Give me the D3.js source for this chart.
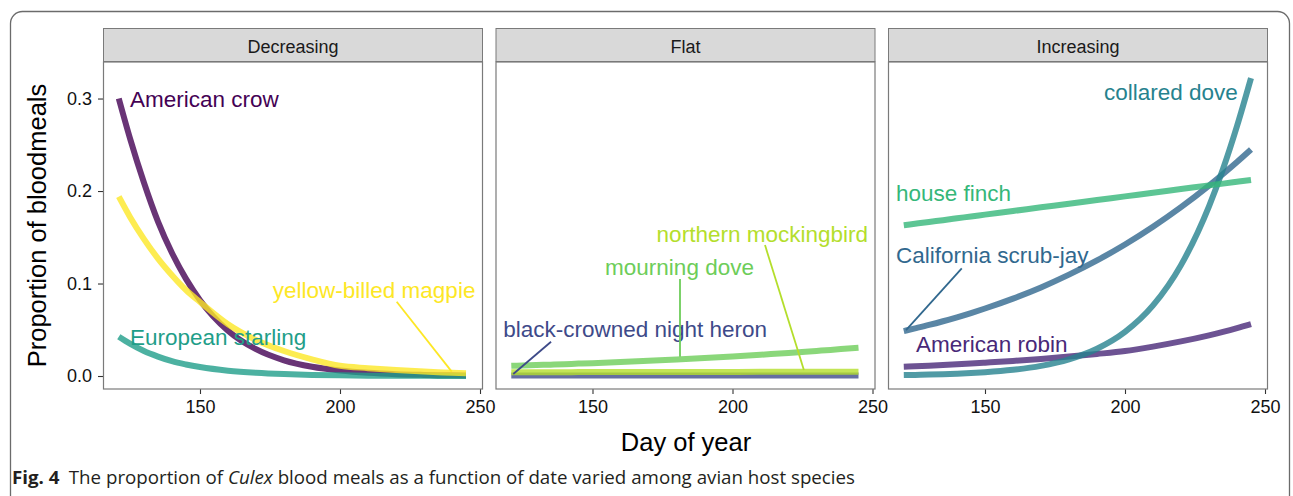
<!DOCTYPE html>
<html>
<head>
<meta charset="utf-8">
<script src="https://cdn.jsdelivr.net/npm/d3@7"></script>
<style>
  body { margin: 0; background: #ffffff; }
  svg { display: block; }
</style>
</head>
<body>
<svg id="chart" width="1293" height="496"></svg>
<script>
// ---------------- DATA ----------------
const panelNames = ["Decreasing", "Flat", "Increasing"];
const species = ["American crow", "American robin", "black-crowned night heron", "California scrub-jay",
  "collared dove", "European starling", "house finch", "mourning dove", "northern mockingbird", "yellow-billed magpie"];
const speciesPanel = ["Decreasing", "Increasing", "Flat", "Increasing",
  "Increasing", "Decreasing", "Increasing", "Flat", "Flat", "Decreasing"];
const speciesColors = ["#440154", "#482878", "#3E4A89", "#31688E", "#26828E",
  "#1F9E89", "#35B779", "#6DCD59", "#B4DE2C", "#FDE725"];

const days = [121, 125, 130, 135, 140, 145, 150, 160, 170, 180, 190, 200, 210, 220, 230, 235, 240, 245];
const americanCrow       = [0.300, 0.257, 0.209, 0.167, 0.133, 0.105, 0.082, 0.049, 0.029, 0.017, 0.010, 0.006, 0.0035, 0.0020, 0.0012, 0.0009, 0.0007, 0.0005];
const americanRobin      = [0.0100, 0.0105, 0.0112, 0.0119, 0.0127, 0.0135, 0.0144, 0.0163, 0.0185, 0.0210, 0.0238, 0.0270, 0.0318, 0.0374, 0.0440, 0.0477, 0.0517, 0.0560];
const nightHeron         = [0.0006, 0.0006, 0.0006, 0.0006, 0.0006, 0.0006, 0.0006, 0.0006, 0.0006, 0.0006, 0.0006, 0.0006, 0.0006, 0.0006, 0.0006, 0.0006, 0.0006, 0.0006];
const scrubJay           = [0.0486, 0.0515, 0.0552, 0.0592, 0.0635, 0.0681, 0.0730, 0.0837, 0.0958, 0.1096, 0.1250, 0.1422, 0.1614, 0.1826, 0.2059, 0.2184, 0.2314, 0.2449];
const collaredDove       = [0.0010, 0.0012, 0.0015, 0.0019, 0.0025, 0.0032, 0.0041, 0.0067, 0.0110, 0.0181, 0.0295, 0.0477, 0.0763, 0.1199, 0.1834, 0.2237, 0.2701, 0.3220];
const europeanStarling   = [0.0425, 0.0350, 0.0270, 0.0210, 0.0160, 0.0125, 0.0097, 0.0058, 0.0035, 0.0021, 0.0012, 0.0007, 0.0004, 0.0003, 0.0002, 0.0001, 0.0001, 0.0001];
const houseFinch         = [0.1630, 0.1646, 0.1666, 0.1685, 0.1705, 0.1725, 0.1745, 0.1784, 0.1824, 0.1863, 0.1903, 0.1942, 0.1982, 0.2021, 0.2061, 0.2080, 0.2100, 0.2120];
const mourningDove       = [0.0110, 0.0114, 0.0119, 0.0123, 0.0128, 0.0134, 0.0139, 0.0151, 0.0165, 0.0179, 0.0194, 0.0211, 0.0230, 0.0249, 0.0271, 0.0282, 0.0294, 0.0306];
const mockingbird        = [0.0040, 0.0040, 0.0041, 0.0041, 0.0041, 0.0042, 0.0042, 0.0042, 0.0043, 0.0043, 0.0044, 0.0044, 0.0045, 0.0045, 0.0046, 0.0046, 0.0046, 0.0047];
const yellowBilledMagpie = [0.194, 0.172, 0.148, 0.127, 0.109, 0.093, 0.080, 0.056, 0.039, 0.027, 0.018, 0.011, 0.0085, 0.0065, 0.0048, 0.0041, 0.0035, 0.0030];
const seriesValues = [americanCrow, americanRobin, nightHeron, scrubJay, collaredDove,
  europeanStarling, houseFinch, mourningDove, mockingbird, yellowBilledMagpie];

const xTicks = [150, 200, 250];
const xTickLabels = ["150", "200", "250"];
const yTicks = [0, 0.1, 0.2, 0.3];
const yTickLabels = ["0.0", "0.1", "0.2", "0.3"];

// label anchors (data units: day, proportion) and leader segments
const labelDay   = [125.0, 125.4, 118.1, 118.2, 192.5, 125.0, 118.2, 154.5, 172.9, 176.0];
const labelValue = [0.291, 0.0263, 0.0425, 0.1218, 0.2984, 0.0335, 0.1892, 0.1092, 0.1452, 0.0840];
const segFromDay   = [null, null, 135.2, 141.7, null, null, null, 181.25, 211.6, 220.25];
const segFromValue = [null, null, 0.0371, 0.1164, null, null, null, 0.1049, 0.1416, 0.0803];
const segToDay     = [null, null, 121.7, 121.8, null, null, null, 181.25, 225.5, 239.9];
const segToValue   = [null, null, 0.0022, 0.0497, null, null, null, 0.0209, 0.0065, 0.0047];

// ---------------- LAYOUT ----------------
const svg = d3.select("#chart");
const font = "'Liberation Sans', Arial, Helvetica, sans-serif";
const panelLefts = [103, 495.5, 888];
const panelW = 380;
const panelTop = 62, panelBottom = 389;
const stripTop = 28;

// outer rounded frame
svg.append("rect")
  .attr("x", 10.5).attr("y", 11.5).attr("width", 1279).attr("height", 520)
  .attr("rx", 12).attr("fill", "none").attr("stroke", "#6b6b6b").attr("stroke-width", 1.3);

const y = d3.scaleLinear().domain([-0.01405, 0.3395]).range([panelBottom, panelTop]);

const line = (xs) => d3.line()
  .x((d, i) => xs(days[i]))
  .y(d => y(d))
  .curve(d3.curveMonotoneX);

panelNames.forEach((pn, pi) => {
  const left = panelLefts[pi];
  const x = d3.scaleLinear().domain([115.36, 251.07]).range([left, left + panelW]);
  const g = svg.append("g");

  // panel background + border
  g.append("rect").attr("x", left).attr("y", panelTop).attr("width", panelW)
    .attr("height", panelBottom - panelTop).attr("fill", "#ffffff");

  // strip
  g.append("rect").attr("x", left + 0.5).attr("y", stripTop + 0.5).attr("width", panelW - 1)
    .attr("height", panelTop - stripTop - 1).attr("fill", "#d9d9d9")
    .attr("stroke", "#7a7a7a").attr("stroke-width", 1);
  g.append("text").attr("x", left + panelW / 2).attr("y", 52.5)
    .attr("text-anchor", "middle").attr("font-family", font).attr("font-size", 18)
    .attr("fill", "#1a1a1a").text(pn);

  // x axis
  const xa = g.append("g").attr("transform", `translate(0,${panelBottom})`)
    .call(d3.axisBottom(x).tickValues(xTicks).tickFormat((d, i) => xTickLabels[i]).tickSize(5).tickPadding(6));
  xa.select(".domain").remove();
  xa.selectAll("line").attr("stroke", "#333").attr("stroke-width", 1.1);
  xa.selectAll("text").attr("font-family", font).attr("font-size", 18).attr("fill", "#111");

  if (pi === 0) {
    const ya = g.append("g").attr("transform", `translate(${left},0)`)
      .call(d3.axisLeft(y).tickValues(yTicks).tickFormat((d, i) => yTickLabels[i]).tickSize(5).tickPadding(6));
    ya.select(".domain").remove();
    ya.selectAll("line").attr("stroke", "#333").attr("stroke-width", 1.1);
    ya.selectAll("text").attr("font-family", font).attr("font-size", 18).attr("fill", "#111");
  }

  // clip
  const clipId = "clip" + pi;
  svg.append("clipPath").attr("id", clipId).append("rect")
    .attr("x", left).attr("y", panelTop).attr("width", panelW).attr("height", panelBottom - panelTop);

  const lg = g.append("g").attr("clip-path", `url(#${clipId})`);
  species.forEach((sp, si) => {
    if (speciesPanel[si] !== pn) return;
    lg.append("path").datum(seriesValues[si])
      .attr("d", line(x))
      .attr("fill", "none").attr("stroke", speciesColors[si])
      .attr("stroke-opacity", 0.8).attr("stroke-width", 6);
  });

  // segments + labels
  species.forEach((sp, si) => {
    if (speciesPanel[si] !== pn) return;
    if (segFromDay[si] !== null) {
      g.append("line")
        .attr("x1", x(segFromDay[si])).attr("y1", y(segFromValue[si]))
        .attr("x2", x(segToDay[si])).attr("y2", y(segToValue[si]))
        .attr("stroke", speciesColors[si]).attr("stroke-width", 1.8);
    }
    g.append("text").attr("x", x(labelDay[si])).attr("y", y(labelValue[si]))
      .attr("font-family", font).attr("font-size", 22.5)
      .attr("fill", speciesColors[si]).text(sp);
  });

  // panel border
  g.append("rect").attr("x", left + 0.5).attr("y", panelTop).attr("width", panelW - 1)
    .attr("height", panelBottom - panelTop).attr("fill", "none")
    .attr("stroke", "#7a7a7a").attr("stroke-width", 1.2);
});

// axis titles
svg.append("text").attr("x", 686).attr("y", 450.5).attr("text-anchor", "middle")
  .attr("font-family", font).attr("font-size", 25.5).attr("fill", "#000").text("Day of year");
svg.append("text").attr("transform", "translate(45.5,225.5) rotate(-90)").attr("text-anchor", "middle")
  .attr("font-family", font).attr("font-size", 25.5).attr("fill", "#000").text("Proportion of bloodmeals");

// caption
const cap = svg.append("text").attr("x", 12).attr("y", 483.5)
  .attr("font-family", "'Liberation Sans Narrow', 'Open Sans', 'Liberation Sans', sans-serif")
  .attr("font-size", 17.5).attr("fill", "#231f20")
  .attr("textLength", 843).attr("lengthAdjust", "spacingAndGlyphs");
cap.append("tspan").attr("font-weight", "bold").text("Fig. 4");
cap.append("tspan").text("\u2002The proportion of ");
cap.append("tspan").attr("font-style", "italic").text("Culex");
cap.append("tspan").text(" blood meals as a function of date varied among avian host species");
</script>
</body>
</html>
